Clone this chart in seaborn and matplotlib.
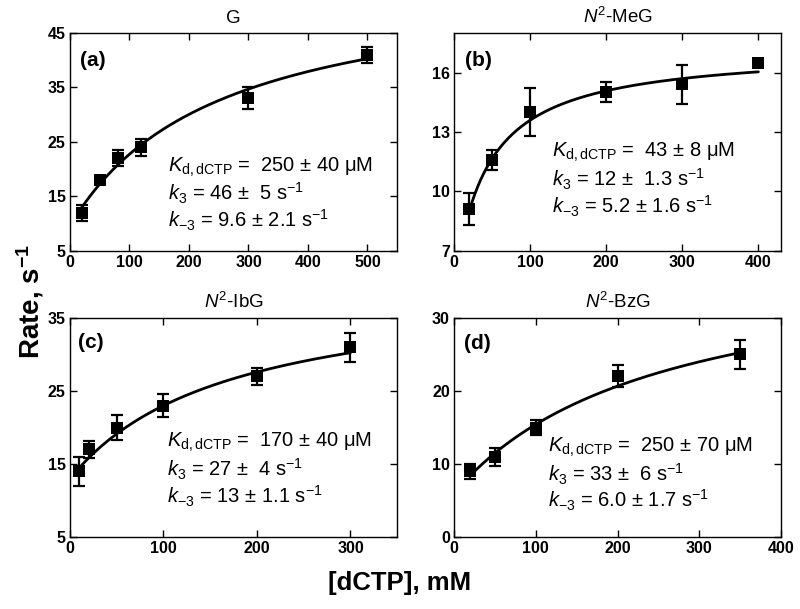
import numpy as np
import pandas as pd
import matplotlib
matplotlib.use("Agg")
import matplotlib.pyplot as plt
import seaborn as sns

sns.set_style("ticks")
plt.rcParams['font.family'] = ['Liberation Sans', 'DejaVu Sans']
plt.rcParams['mathtext.fontset'] = 'custom'
plt.rcParams['mathtext.rm'] = 'Liberation Sans'
plt.rcParams['mathtext.it'] = 'Liberation Sans:italic'
plt.rcParams['mathtext.bf'] = 'Liberation Sans:bold'
for key in ['text.color', 'axes.labelcolor', 'xtick.color', 'ytick.color', 'axes.edgecolor']:
    plt.rcParams[key] = 'black'

# ---- data ----
titles = ['G', r'$\mathit{N}^2$-MeG', r'$\mathit{N}^2$-IbG', r'$\mathit{N}^2$-BzG']
labels = ['(a)', '(b)', '(c)', '(d)']

x_a = [20, 50, 80, 120, 300, 500]
y_a = [12, 18, 22, 24, 33, 41]
e_a = [1.5, 0.3, 1.5, 1.5, 2.0, 1.5]

x_b = [20, 50, 100, 200, 300, 400]
y_b = [9.1, 11.6, 14.0, 15.0, 15.4, 16.5]
e_b = [0.8, 0.5, 1.2, 0.5, 1.0, 0.0]

x_c = [10, 20, 50, 100, 200, 300]
y_c = [14, 17, 20, 23, 27, 31]
e_c = [2.0, 1.2, 1.7, 1.6, 1.2, 2.0]

x_d = [20, 50, 100, 200, 350]
y_d = [9, 11, 15, 22, 25]
e_d = [1.0, 1.2, 1.0, 1.5, 2.0]

# fit parameters (Kd, k3, k-3) printed in each panel
kd_vals = [250, 43, 170, 250]
k3_vals = [46, 12, 27, 33]
km3_vals = [9.6, 5.2, 13, 6.0]

fit_texts = [
    [r'$\mathit{K}_{\mathrm{d,dCTP}}$ =  250 ± 40 μM', r'$\mathit{k}_3$ = 46 ±  5 s$^{-1}$', r'$\mathit{k}_{-3}$ = 9.6 ± 2.1 s$^{-1}$'],
    [r'$\mathit{K}_{\mathrm{d,dCTP}}$ =  43 ± 8 μM', r'$\mathit{k}_3$ = 12 ±  1.3 s$^{-1}$', r'$\mathit{k}_{-3}$ = 5.2 ± 1.6 s$^{-1}$'],
    [r'$\mathit{K}_{\mathrm{d,dCTP}}$ =  170 ± 40 μM', r'$\mathit{k}_3$ = 27 ±  4 s$^{-1}$', r'$\mathit{k}_{-3}$ = 13 ± 1.1 s$^{-1}$'],
    [r'$\mathit{K}_{\mathrm{d,dCTP}}$ =  250 ± 70 μM', r'$\mathit{k}_3$ = 33 ±  6 s$^{-1}$', r'$\mathit{k}_{-3}$ = 6.0 ± 1.7 s$^{-1}$'],
]

xlims = [(0, 550), (0, 430), (0, 350), (0, 400)]
ylims = [(5, 45), (7, 18), (5, 35), (0, 30)]
xticks = [[0, 100, 200, 300, 400, 500], [0, 100, 200, 300, 400], [0, 100, 200, 300], [0, 100, 200, 300, 400]]
yticks = [[5, 15, 25, 35, 45], [7, 10, 13, 16], [5, 15, 25, 35], [0, 10, 20, 30]]

xs = [x_a, x_b, x_c, x_d]
ys = [y_a, y_b, y_c, y_d]
es = [e_a, e_b, e_c, e_d]

# layout
rects = [
    (0.0875, 0.588, 0.409, 0.358),
    (0.5675, 0.588, 0.409, 0.358),
    (0.0875, 0.118, 0.409, 0.360),
    (0.5675, 0.118, 0.409, 0.360),
]
text_pos = [(0.30, 0.385), (0.30, 0.45), (0.295, 0.43), (0.287, 0.41)]
label_pos = [(0.03, 0.875), (0.035, 0.875), (0.025, 0.89), (0.03, 0.885)]

fig = plt.figure(figsize=(8, 6.09), dpi=100)

for i in range(4):
    ax = fig.add_axes(rects[i])
    x = np.array(xs[i], dtype=float)
    y = np.array(ys[i], dtype=float)
    e = np.array(es[i], dtype=float)
    xf = np.linspace(x.min(), x.max(), 200)
    yf = k3_vals[i] * xf / (kd_vals[i] + xf) + km3_vals[i]
    sns.lineplot(x=xf, y=yf, ax=ax, color='black', lw=2.0, zorder=2)
    ax.errorbar(x, y, yerr=e, fmt='none', ecolor='black', elinewidth=1.6,
                capsize=4.5, capthick=1.6, zorder=3)
    sns.scatterplot(x=x, y=y, ax=ax, marker='s', s=70, color='black',
                    edgecolor='black', linewidth=0, zorder=4)
    ax.set_xlim(*xlims[i])
    ax.set_ylim(*ylims[i])
    ax.set_xticks(xticks[i])
    ax.set_yticks(yticks[i])
    ax.tick_params(direction='in', top=True, right=True, length=5, width=1,
                   labelsize=11.5, pad=3, colors='black')
    for lab in ax.get_xticklabels() + ax.get_yticklabels():
        lab.set_fontweight('bold')
    for sp in ax.spines.values():
        sp.set_linewidth(1.0)
        sp.set_color('black')
    ax.set_xlabel('')
    ax.set_ylabel('')
    ax.set_title(titles[i], fontsize=13.5, pad=7, color='black')
    ax.text(label_pos[i][0], label_pos[i][1], labels[i], transform=ax.transAxes,
            fontsize=15, fontweight='bold', va='center', ha='left')
    tx, ty = text_pos[i]
    for j, t in enumerate(fit_texts[i]):
        ax.text(tx, ty - j * 0.122, t, transform=ax.transAxes, fontsize=14.5,
                va='center', ha='left')

fig.text(0.038, 0.505, r'Rate, s$^{\mathbf{-1}}$', rotation=90, fontsize=20,
         fontweight='bold', va='center', ha='center')
fig.text(0.5, 0.042, '[dCTP], mM', fontsize=18.5, fontweight='bold',
         va='center', ha='center')

fig.savefig('out.png', dpi=100)
